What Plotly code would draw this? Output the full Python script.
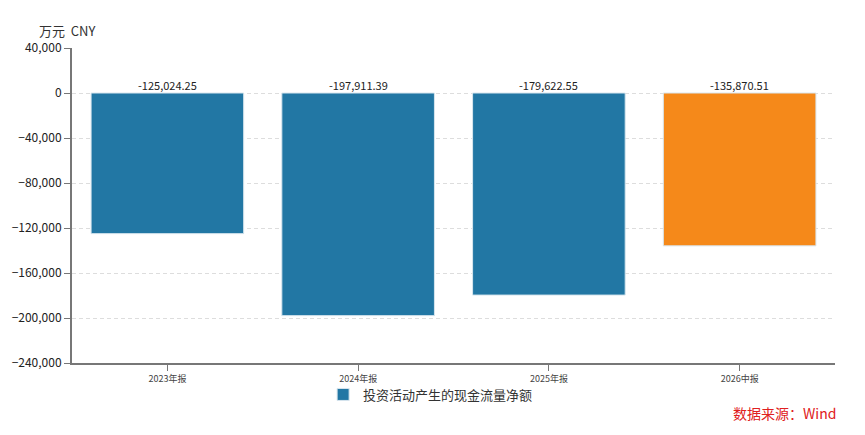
import plotly.graph_objects as go

periods = ["2023年报", "2024年报", "2025年报", "2026中报"]
values = [-125024.25, -197911.39, -179622.55, -135870.51]
bar_colors = ["#2277a4", "#2277a4", "#2277a4", "#f5891a"]
y_ticks = [40000, 0, -40000, -80000, -120000, -160000, -200000, -240000]

FONT = "Noto Sans CJK SC, Microsoft YaHei, sans-serif"

fig = go.Figure()
fig.add_trace(go.Bar(
    x=periods, y=values,
    name="投资活动产生的现金流量净额",
    marker=dict(color=bar_colors, line=dict(color="#d8e6ee", width=1)),
    width=0.8,
    showlegend=True,
    hoverinfo="skip",
))

for p, v in zip(periods, values):
    fig.add_annotation(x=p, y=0, text=f"{v:,.2f}", showarrow=False,
                       yanchor="bottom", yshift=-2,
                       font=dict(size=11, color="#222222", family=FONT))

fig.add_annotation(xref="paper", yref="paper", x=0.034, y=1.057, text="万元  CNY",
                   showarrow=False, xanchor="right", yanchor="middle",
                   font=dict(size=13, color="#333333", family=FONT))
fig.add_annotation(xref="paper", yref="paper", x=1.004, y=-0.159, text="数据来源：Wind",
                   showarrow=False, xanchor="right", yanchor="middle",
                   font=dict(size=14, color="#e02020", family=FONT))

# page body has an 8px margin, so the figure is shrunk to fit the window
fig.update_layout(
    width=849, height=419,
    margin=dict(l=64, r=22, t=40, b=64),
    plot_bgcolor="white", paper_bgcolor="white",
    font=dict(family=FONT, color="#333333"),
    showlegend=True,
    legend=dict(orientation="h", x=0.47, xanchor="center", y=-0.1, yanchor="middle",
                bgcolor="rgba(0,0,0,0)", font=dict(size=13, color="#333333")),
)
fig.update_xaxes(
    showline=True, linecolor="#777777", linewidth=2,
    ticks="outside", ticklen=6, tickcolor="#777777",
    tickfont=dict(size=9, color="#444444"),
    showgrid=False, automargin=False,
)
fig.update_yaxes(
    range=[-240000, 40000],
    tickvals=y_ticks, tickformat=",",
    showline=True, linecolor="#777777", linewidth=2,
    ticks="outside", ticklen=6, tickcolor="#777777",
    tickfont=dict(size=12, color="#222222"),
    showgrid=True, gridcolor="#dddddd", griddash="4px,3px", gridwidth=1,
    zeroline=False, automargin=False,
)

fig.write_html("out.html")
